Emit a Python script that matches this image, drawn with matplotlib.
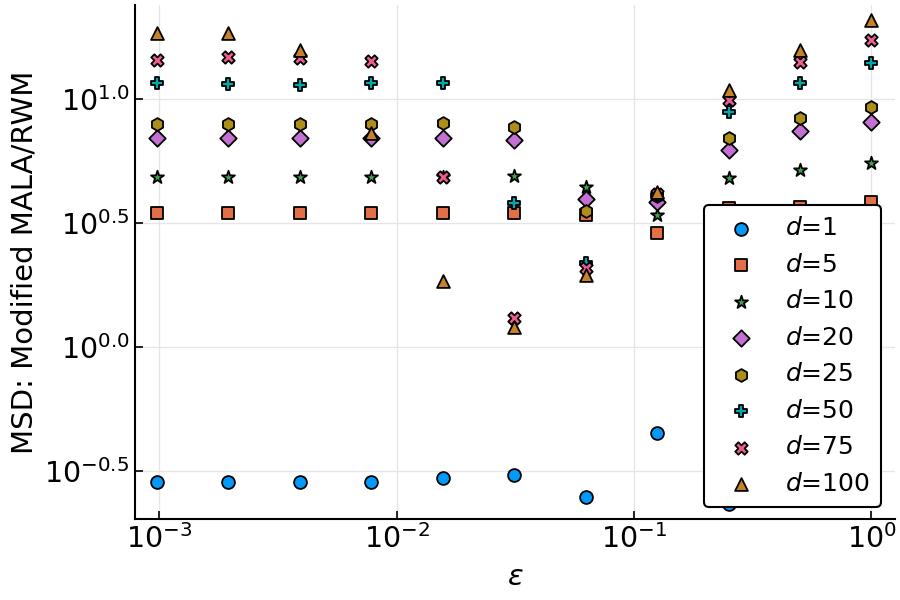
import matplotlib
matplotlib.use('Agg')
import matplotlib.pyplot as plt
import numpy as np

# step sizes eps = 2^-10 ... 2^0
eps = [2.0 ** -k for k in range(10, -1, -1)]

# log10 of MSD ratio
log_d1 = [-0.543, -0.543, -0.543, -0.543, -0.529, -0.516, -0.604, -0.348, -0.633, -0.58, -0.52]
log_d5 = [0.539, 0.539, 0.539, 0.539, 0.539, 0.539, 0.530, 0.461, 0.560, 0.566, 0.586]
log_d10 = [0.687, 0.687, 0.687, 0.687, 0.687, 0.690, 0.644, 0.532, 0.680, 0.714, 0.743]
log_d20 = [0.844, 0.844, 0.844, 0.844, 0.844, 0.835, 0.596, 0.586, 0.794, 0.871, 0.908]
log_d25 = [0.899, 0.899, 0.899, 0.899, 0.902, 0.886, 0.550, 0.610, 0.844, 0.922, 0.966]
log_d50 = [1.063, 1.060, 1.056, 1.065, 1.066, 0.582, 0.337, 0.612, 0.949, 1.066, 1.144]
log_d75 = [1.157, 1.168, 1.164, 1.154, 0.687, 0.116, 0.317, 0.618, 0.996, 1.150, 1.238]
log_d100 = [1.265, 1.267, 1.198, 0.864, 0.266, 0.082, 0.290, 0.625, 1.036, 1.198, 1.319]

dims = [1, 5, 10, 20, 25, 50, 75, 100]
series = [log_d1, log_d5, log_d10, log_d20, log_d25, log_d50, log_d75, log_d100]
colors = ['#009AFA', '#E36F47', '#3EA44E', '#C271D2', '#AC8E18', '#00A9AD', '#ED5E93', '#C68225']
markers = ['o', 's', '*', 'D', 'h', 'P', 'X', '^']
sizes = [85, 85, 95, 70, 85, 85, 80, 85]

plt.rcParams['mathtext.fontset'] = 'dejavusans'

fig = plt.figure(figsize=(9, 6), dpi=100)
ax = fig.add_axes([0.15, 0.135, 0.8444, 0.8567])

for d, ys, c, m, s in zip(dims, series, colors, markers, sizes):
    ax.scatter(eps, 10 ** np.array(ys), s=s, marker=m, color=c,
               edgecolors='black', linewidths=1.3, label=rf'$d$=${d}$', zorder=3)

ax.set_xscale('log')
ax.set_yscale('log')
ax.set_xlim(10 ** -3.102, 10 ** 0.099)
ax.set_ylim(10 ** -0.694, 10 ** 1.379)

ax.set_xticks([1e-3, 1e-2, 1e-1, 1e0])
ax.set_xticklabels([r'$10^{-3}$', r'$10^{-2}$', r'$10^{-1}$', r'$10^{0}$'])
yt = [-0.5, 0.0, 0.5, 1.0]
ax.set_yticks([10 ** v for v in yt])
ax.set_yticklabels([r'$10^{%.1f}$' % v for v in yt])
ax.minorticks_off()

ax.tick_params(direction='in', labelsize=20.5, length=6, width=1.2, pad=4)
ax.grid(True, color='#e6e6e6', linewidth=1)
ax.set_axisbelow(True)
for side in ['top', 'right']:
    ax.spines[side].set_visible(False)
for side in ['left', 'bottom']:
    ax.spines[side].set_linewidth(1.5)

ax.set_xlabel(r'$\epsilon$', fontsize=21, labelpad=6)
ax.set_ylabel('MSD: Modified MALA/RWM', fontsize=21, labelpad=4)

leg = ax.legend(loc='lower right', bbox_to_anchor=(0.982, 0.023), fontsize=18,
                scatterpoints=1, frameon=True, fancybox=True, framealpha=1,
                edgecolor='black', labelspacing=0.5, handletextpad=0.78,
                borderpad=0.45, borderaxespad=0)
leg.get_frame().set_linewidth(1.5)
leg.set_zorder(5)

fig.savefig('out.png', dpi=100)
